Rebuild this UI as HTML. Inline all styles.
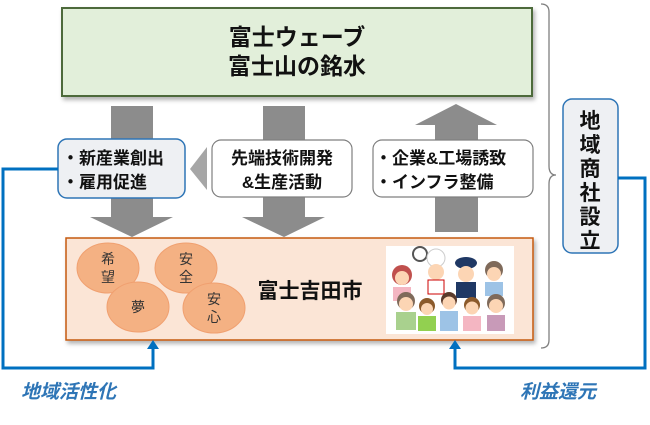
<!DOCTYPE html>
<html><head><meta charset="utf-8"><style>
body{margin:0;background:#fff;width:650px;height:420px;overflow:hidden}
text{font-family:"Liberation Sans","Noto Sans CJK JP",sans-serif}
</style></head><body>
<svg width="650" height="420" viewBox="0 0 650 420" xmlns="http://www.w3.org/2000/svg">
<defs><filter id="sh" x="-5%" y="-5%" width="115%" height="120%"><feDropShadow dx="2" dy="3" stdDeviation="2" flood-color="#000" flood-opacity="0.3"/></filter></defs>
<rect x="62" y="8" width="470" height="88" fill="#e2efda" stroke="#4e6b3a" stroke-width="2" filter="url(#sh)"/>
<text x="297" y="45" font-size="23" font-weight="bold" text-anchor="middle" fill="#111">富士ウェーブ</text>
<text x="297" y="74" font-size="23" font-weight="bold" text-anchor="middle" fill="#111">富士山の銘水</text>
<polygon points="111,106 153,106 153,217 173,217 132,237 90,217 111,217" fill="#8c8c8c"/>
<polygon points="263,106 305,106 305,217 325,217 284,237 242,217 263,217" fill="#8c8c8c"/>
<polygon points="435,232 478,232 478,125 497,125 456,104 415,125 435,125" fill="#8c8c8c"/>
<polygon points="207,147 207,190 190,169" fill="#a6a6a6"/>
<rect x="58" y="139" width="127" height="59" rx="9" fill="#eef0f3" stroke="#2e75b6" stroke-width="1.5"/>
<text x="62" y="164" font-size="17" font-weight="bold" fill="#111">・新産業創出</text>
<text x="62" y="188" font-size="17" font-weight="bold" fill="#111">・雇用促進</text>
<rect x="212" y="140" width="140" height="57" rx="9" fill="#fff" stroke="#7f7f7f" stroke-width="1.2"/>
<text x="282" y="164" font-size="17" font-weight="bold" text-anchor="middle" fill="#111">先端技術開発</text>
<text x="282" y="188" font-size="17" font-weight="bold" text-anchor="middle" fill="#111">&amp;生産活動</text>
<rect x="373" y="140" width="160" height="57" rx="9" fill="#fff" stroke="#7f7f7f" stroke-width="1.2"/>
<text x="375" y="164" font-size="17" font-weight="bold" fill="#111">・企業&amp;工場誘致</text>
<text x="375" y="188" font-size="17" font-weight="bold" fill="#111">・インフラ整備</text>
<rect x="66" y="238" width="467" height="102" fill="#fbe5d6" stroke="#c55a11" stroke-width="1.5" filter="url(#sh)"/>
<g fill="#f4b183" stroke="#f0a070" stroke-width="1">
<ellipse cx="108" cy="268" rx="31" ry="25"/>
<ellipse cx="186" cy="268" rx="31" ry="25"/>
<ellipse cx="138" cy="307" rx="31" ry="25"/>
<ellipse cx="214" cy="308" rx="31" ry="25"/>
</g>
<g font-size="14" fill="#333" text-anchor="middle">
<text x="108" y="264">希</text><text x="108" y="282">望</text>
<text x="186" y="264">安</text><text x="186" y="282">全</text>
<text x="138" y="312">夢</text>
<text x="214" y="304">安</text><text x="214" y="322">心</text>
</g>
<text x="310" y="298" font-size="21" font-weight="bold" text-anchor="middle" fill="#111">富士吉田市</text>
<rect x="386" y="246" width="128" height="88" fill="#fff"/>
<g>
<circle cx="402" cy="275" r="10" fill="#c0504d"/><circle cx="402" cy="278" r="7" fill="#fcd5b4"/>
<rect x="393" y="287" width="18" height="14" fill="#f4b6c2"/>
<circle cx="420" cy="254" r="7" fill="none" stroke="#555" stroke-width="2"/>
<circle cx="436" cy="258" r="9" fill="#fff" stroke="#ccc"/><circle cx="436" cy="272" r="8" fill="#fcd5b4"/>
<rect x="428" y="280" width="16" height="14" fill="#fff" stroke="#c00"/>
<ellipse cx="466" cy="263" rx="11" ry="6" fill="#1f3864"/><circle cx="466" cy="274" r="8" fill="#fcd5b4"/>
<rect x="456" y="282" width="20" height="16" fill="#1f3864"/>
<circle cx="494" cy="270" r="9" fill="#7f6a5a"/><circle cx="494" cy="274" r="7" fill="#fcd5b4"/>
<rect x="485" y="282" width="18" height="14" fill="#9dc3e6"/>
<circle cx="406" cy="301" r="9" fill="#7f6a5a"/><circle cx="406" cy="304" r="7" fill="#fcd5b4"/>
<rect x="396" y="312" width="20" height="18" fill="#a9d18e"/>
<circle cx="427" cy="306" r="8" fill="#8b5a2b"/><circle cx="427" cy="309" r="6" fill="#fcd5b4"/>
<rect x="418" y="316" width="18" height="15" fill="#92d050"/>
<circle cx="449" cy="300" r="8" fill="#5a3a2a"/><circle cx="449" cy="303" r="6.5" fill="#fcd5b4"/>
<rect x="440" y="311" width="18" height="20" fill="#9dc3e6"/>
<circle cx="472" cy="305" r="8" fill="#8b5a2b"/><circle cx="472" cy="308" r="6.5" fill="#fcd5b4"/>
<rect x="463" y="316" width="18" height="15" fill="#f4b6c2"/>
<circle cx="496" cy="303" r="9" fill="#7f6a5a"/><circle cx="496" cy="306" r="7" fill="#fcd5b4"/>
<rect x="487" y="315" width="18" height="16" fill="#c89ab8"/>
</g>
<path d="M541,4 Q549,4 549,12 L549,166 Q549,175 556,175 Q549,175 549,184 L549,340 Q549,348 541,348" fill="none" stroke="#7f7f7f" stroke-width="1.3"/>
<rect x="563" y="99" width="55" height="154" rx="9" fill="#eef0f3" stroke="#2e75b6" stroke-width="1.5"/>
<g font-size="21" font-weight="bold" text-anchor="middle" fill="#111">
<text x="590" y="128">地</text><text x="590" y="152">域</text><text x="590" y="176">商</text>
<text x="590" y="200">社</text><text x="590" y="224">設</text><text x="590" y="248">立</text>
</g>
<polyline points="58,169 3,169 3,368 153,368 153,348" fill="none" stroke="#0070c0" stroke-width="3"/>
<polygon points="147,349 159,349 153,340" fill="#0070c0"/>
<polyline points="618,178 645,178 645,368 455,368 455,348" fill="none" stroke="#0070c0" stroke-width="3"/>
<polygon points="449,349 461,349 455,340" fill="#0070c0"/>
<text x="21" y="398" font-size="19" font-weight="bold" font-style="italic" fill="#2e75b6">地域活性化</text>
<text x="520" y="398" font-size="19" font-weight="bold" font-style="italic" fill="#2e75b6">利益還元</text>
</svg>
</body></html>
